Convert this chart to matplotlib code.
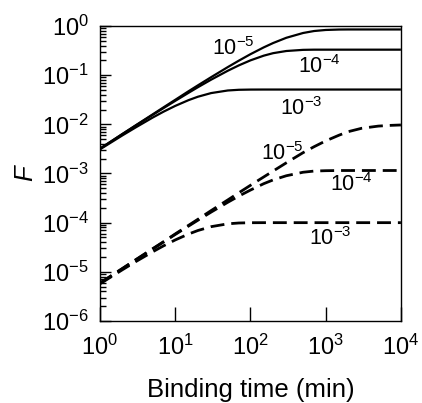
import numpy as np
import matplotlib
matplotlib.use("Agg")
import matplotlib.pyplot as plt

plt.rcParams['font.family'] = ['Liberation Sans', 'DejaVu Sans']
plt.rcParams['mathtext.fontset'] = 'custom'
plt.rcParams['mathtext.rm'] = 'Liberation Sans'
plt.rcParams['mathtext.it'] = 'Liberation Sans:italic'

# binding time (min)
t = [1, 2, 3, 5, 7, 10, 15, 20, 30, 50, 70, 100, 150, 200, 300, 500, 700,
     1000, 1500, 2000, 3000, 5000, 7000, 10000]

# solid curves
f_solid_1e5 = [0.0032, 0.0064, 0.0096, 0.0159, 0.0222, 0.0315, 0.047, 0.062, 0.091,
               0.146, 0.197, 0.267, 0.367, 0.45, 0.576, 0.72, 0.79, 0.83, 0.847,
               0.85, 0.85, 0.85, 0.85, 0.85]
f_solid_1e4 = [0.0032, 0.0064, 0.0095, 0.0155, 0.0214, 0.03, 0.0437, 0.0568, 0.081,
               0.123, 0.158, 0.2, 0.249, 0.28, 0.31, 0.327, 0.33, 0.33, 0.33,
               0.33, 0.33, 0.33, 0.33, 0.33]
f_solid_1e3 = [0.0031, 0.006, 0.0087, 0.0137, 0.0181, 0.0237, 0.031, 0.0364, 0.0432,
               0.0488, 0.0504, 0.0509, 0.051, 0.051, 0.051, 0.051, 0.051, 0.051,
               0.051, 0.051, 0.051, 0.051, 0.051, 0.051]

# dashed curves
f_dash_1e5 = [5.9e-6, 1.18e-5, 1.77e-5, 2.95e-5, 4.1e-5, 5.9e-5, 8.8e-5, 1.17e-4, 1.76e-4,
              2.9e-4, 4.05e-4, 5.75e-4, 8.5e-4, 1.12e-3, 1.65e-3, 2.65e-3, 3.5e-3,
              4.6e-3, 6.0e-3, 7.1e-3, 8.3e-3, 9.2e-3, 9.5e-3, 9.7e-3]
f_dash_1e4 = [5.9e-6, 1.17e-5, 1.76e-5, 2.9e-5, 4.05e-5, 5.75e-5, 8.5e-5, 1.12e-4, 1.64e-4,
              2.6e-4, 3.47e-4, 4.6e-4, 6.2e-4, 7.4e-4, 9.0e-4, 1.06e-3, 1.12e-3,
              1.14e-3, 1.15e-3, 1.15e-3, 1.15e-3, 1.15e-3, 1.15e-3, 1.15e-3]
f_dash_1e3 = [5.7e-6, 1.11e-5, 1.62e-5, 2.55e-5, 3.38e-5, 4.45e-5, 5.86e-5, 6.92e-5, 8.29e-5,
              9.47e-5, 9.84e-5, 9.97e-5, 1e-4, 1e-4, 1e-4, 1e-4, 1e-4, 1e-4, 1e-4,
              1e-4, 1e-4, 1e-4, 1e-4, 1e-4]

labels = [r'$10^{-5}$', r'$10^{-4}$', r'$10^{-3}$',
          r'$10^{-5}$', r'$10^{-4}$', r'$10^{-3}$']
label_pos = [(0.4435, 0.925), (0.729, 0.863), (0.669, 0.721),
             (0.605, 0.568), (0.834, 0.461), (0.764, 0.280)]

fig = plt.figure(figsize=(4.22, 4.03), dpi=100)
ax = fig.add_axes([0.237, 0.2035, 0.713, 0.732])

for f in [f_solid_1e5, f_solid_1e4, f_solid_1e3]:
    ax.plot(t, f, color='black', lw=1.6, solid_capstyle='butt')
for f in [f_dash_1e5, f_dash_1e4, f_dash_1e3]:
    ax.plot(t, f, color='black', lw=2.0, dashes=(5.0, 2.5), dash_capstyle='butt')

for lab, (fx, fy) in zip(labels, label_pos):
    ax.text(fx, fy, lab, transform=ax.transAxes, ha='center', va='center', fontsize=15.5)

ax.set_xscale('log')
ax.set_yscale('log')
ax.set_xlim(1, 1e4)
ax.set_ylim(1e-6, 1)
ax.set_xticks([1, 10, 100, 1000, 10000])
ax.set_yticks([1e-6, 1e-5, 1e-4, 1e-3, 1e-2, 1e-1, 1])

ax.tick_params(axis='both', which='both', direction='in', top=False, right=False,
               labelsize=17, width=1.0)
ax.tick_params(axis='x', which='major', length=10, pad=10)
ax.tick_params(axis='x', which='minor', length=5)
ax.tick_params(axis='y', which='major', length=8, pad=8)
ax.tick_params(axis='y', which='minor', length=4.3)
for s in ax.spines.values():
    s.set_linewidth(1.0)

ax.set_xlabel('Binding time (min)', fontsize=18.5, labelpad=13)
ax.set_ylabel('F', fontsize=18.5, fontstyle='italic')
ax.yaxis.set_label_coords(-0.21, 0.5)

fig.savefig('out.png', dpi=100)
